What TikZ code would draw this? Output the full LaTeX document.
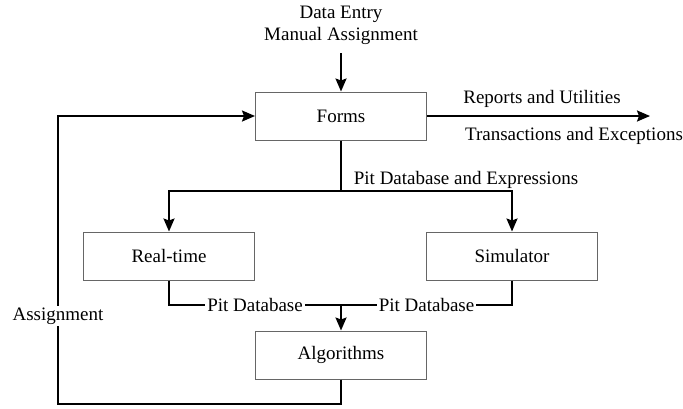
\documentclass[tikz,border=0pt]{standalone}
\usepackage{fontspec}
\setmainfont{Liberation Serif}
\usetikzlibrary{arrows.meta}

\begin{document}
\begin{tikzpicture}[x=0.5pt, y=-0.5pt, font=\fontsize{9.5}{11}\selectfont, line width=1pt, >={Stealth[length=6.5pt, width=5.5pt, inset=1pt]}]
    \tikzset{blk/.style={draw=black!60, line width=0.5pt, minimum width=85.5pt, minimum height=24pt, inner sep=0pt},
             lbl/.style={fill=white, inner xsep=1pt, inner ysep=1pt}}
    \useasboundingbox (0,0) rectangle (683,408);
    \node [blk] (forms) at (341,116) {Forms};
    \node [blk] (realtime) at (169,256) {Real-time};
    \node [blk] (sim) at (512,256) {Simulator};
    \node [blk] (algo) at (341,355) {Algorithms};
    \node [align=center] (entry) at (341,25) {Data Entry\\Manual Assignment};
    \node (reports) at (542,99) {Reports and Utilities};
    \node (trans) at (574,136) {Transactions and Exceptions};
    \node (pde) at (466,180) {Pit Database and Expressions};
    \coordinate (in) at (341,53);
    \coordinate (out) at (650,116);
    \coordinate (split) at (341,191);
    \coordinate (merge) at (341,305);
    \coordinate (loop) at (58,404);
    \draw [->] (in) -- (forms);
    \draw [->] (forms) -- (out);
    \draw (forms) -- (split);
    \draw [->] (split) -| (realtime);
    \draw [->] (split) -| (sim);
    \draw (realtime) |- node [lbl, pos=0.75] {Pit Database} (merge);
    \draw (sim) |- node [lbl, pos=0.75] {Pit Database} (merge);
    \draw [->] (merge) -- (algo);
    \draw [->] (algo) |- (loop) |- (forms);
    \node [lbl] (assign) at (58,316) {Assignment};
\end{tikzpicture}
\end{document}
